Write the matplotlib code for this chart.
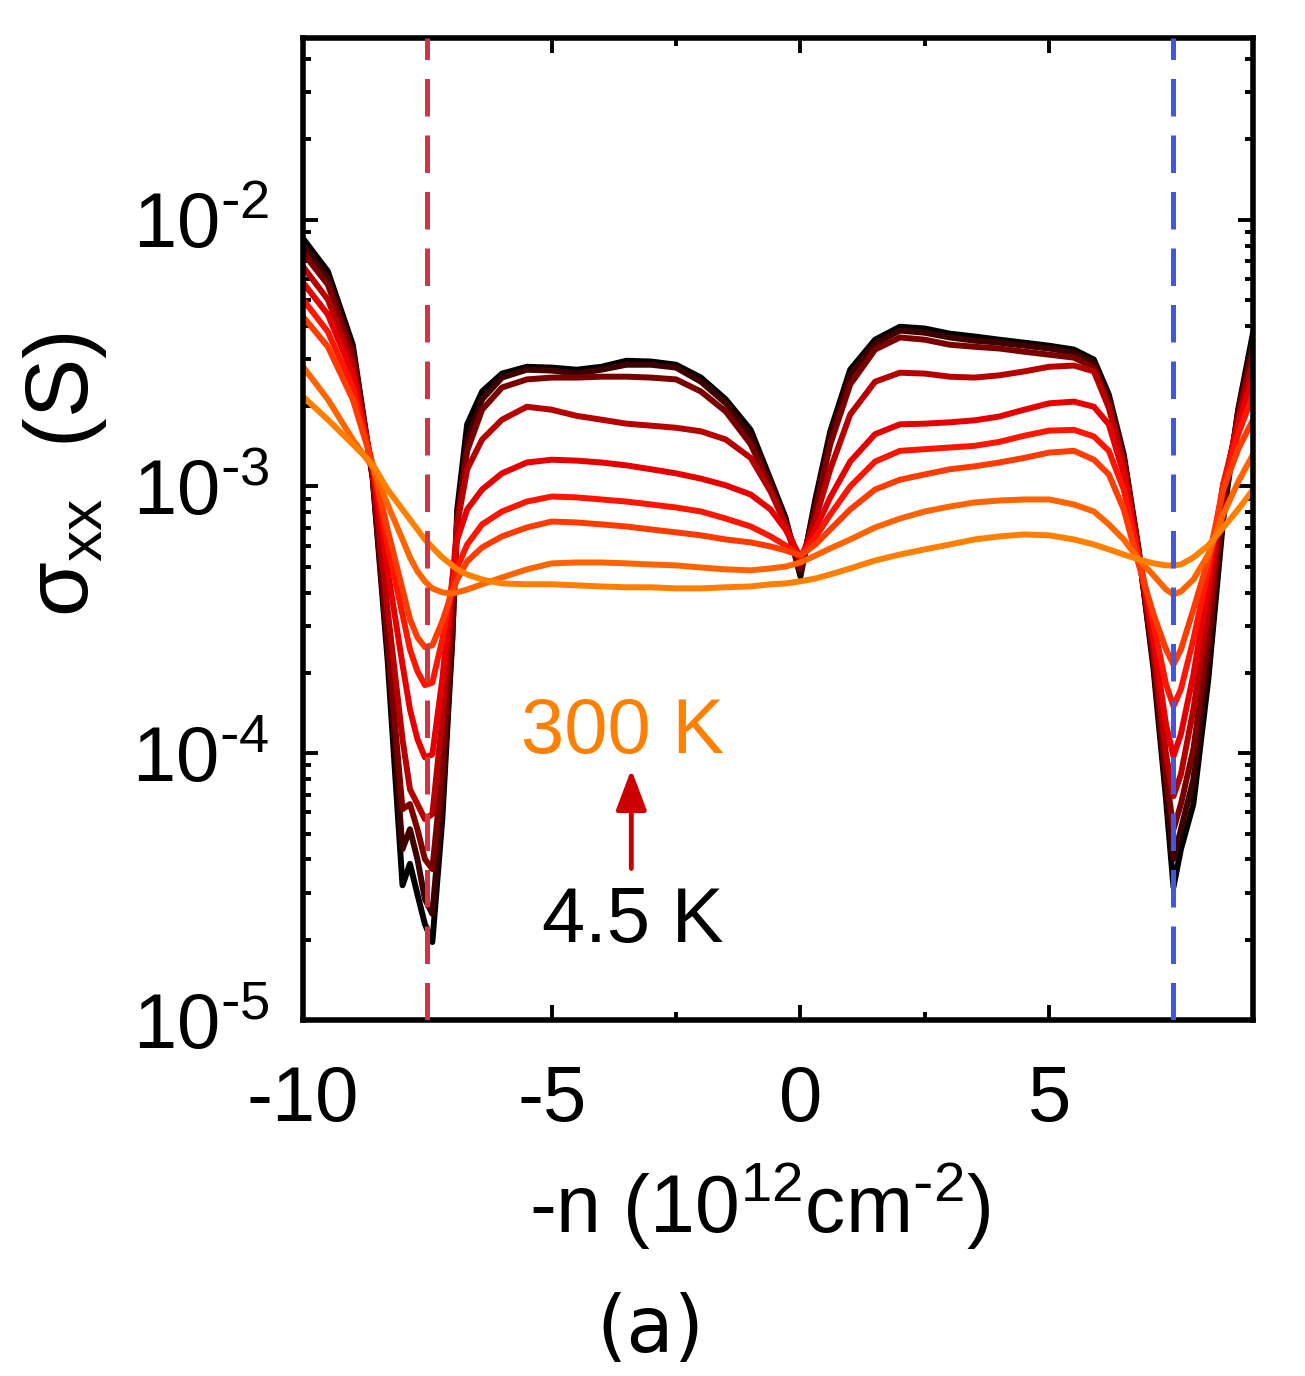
import matplotlib
matplotlib.use('Agg')
import matplotlib.pyplot as plt
from matplotlib.ticker import FixedLocator, LogLocator, NullFormatter, MultipleLocator, FixedFormatter

plt.rcParams['font.family'] = ['Liberation Sans', 'DejaVu Sans']
plt.rcParams['mathtext.default'] = 'regular'

# carrier density -n (1e12 cm^-2)
n = [-10.0, -9.5, -9.0, -8.6, -8.3, -8.0, -7.85, -7.7, -7.55, -7.4,
     -7.2, -7.0, -6.9, -6.7, -6.4, -6.0, -5.5, -5.0, -4.5, -4.0,
     -3.5, -3.0, -2.5, -2.0, -1.5, -1.0, -0.6, -0.3, 0.0, 0.3,
     0.6, 1.0, 1.5, 2.0, 2.5, 3.0, 3.5, 4.0, 4.5, 5.0,
     5.5, 5.9, 6.2, 6.5, 6.8, 7.1, 7.35, 7.5, 7.65, 7.9,
     8.2, 8.5, 8.8, 9.1]

# sigma_xx (S), from 4.5 K (sig_1) up to 300 K (sig_9)
sig_1 = [8.5e-3, 6.4e-3, 3.4e-3, 1.08e-3, 2.25e-4, 3.2e-5, 3.85e-5, 2.96e-5, 2.29e-5, 1.96e-5,
         5.66e-5, 2.67e-4, 8.2e-4, 1.71e-3, 2.27e-3, 2.65e-3, 2.81e-3, 2.79e-3, 2.74e-3, 2.81e-3,
         2.96e-3, 2.94e-3, 2.86e-3, 2.56e-3, 2.12e-3, 1.63e-3, 1.06e-3, 7.65e-4, 4.6e-4, 8.94e-4,
         1.61e-3, 2.74e-3, 3.55e-3, 3.97e-3, 3.91e-3, 3.74e-3, 3.65e-3, 3.55e-3, 3.46e-3, 3.37e-3,
         3.26e-3, 2.99e-3, 2.21e-3, 1.32e-3, 5.81e-4, 2.06e-4, 6.72e-5, 3.15e-5, 4.37e-5, 6.45e-5,
         1.89e-4, 7.52e-4, 1.94e-3, 3.77e-3]
sig_2 = [8.06e-3, 6.06e-3, 3.26e-3, 1.08e-3, 2.45e-4, 4.37e-5, 5.19e-5, 4.01e-5, 2.84e-5, 2.5e-5,
         6.72e-5, 2.67e-4, 7.52e-4, 1.5e-3, 2.12e-3, 2.56e-3, 2.74e-3, 2.72e-3, 2.65e-3, 2.74e-3,
         2.86e-3, 2.86e-3, 2.79e-3, 2.47e-3, 2.05e-3, 1.55e-3, 1.03e-3, 7.39e-4, 4.72e-4, 8.56e-4,
         1.54e-3, 2.63e-3, 3.43e-3, 3.84e-3, 3.77e-3, 3.62e-3, 3.52e-3, 3.46e-3, 3.37e-3, 3.29e-3,
         3.17e-3, 2.91e-3, 2.12e-3, 1.28e-3, 5.71e-4, 2.15e-4, 7.33e-5, 4.01e-5, 5.19e-5, 7.99e-5,
         2.25e-4, 8.2e-4, 1.91e-3, 3.55e-3]
sig_3 = [7.52e-3, 5.71e-3, 3.12e-3, 1.1e-3, 2.67e-4, 6.17e-5, 6.45e-5, 5.19e-5, 4.01e-5, 3.68e-5,
         8.71e-5, 3.18e-4, 7.52e-4, 1.36e-3, 1.94e-3, 2.35e-3, 2.52e-3, 2.56e-3, 2.56e-3, 2.58e-3,
         2.58e-3, 2.56e-3, 2.52e-3, 2.27e-3, 1.91e-3, 1.44e-3, 9.9e-4, 7.21e-4, 4.89e-4, 8.06e-4,
         1.44e-3, 2.41e-3, 3.26e-3, 3.62e-3, 3.55e-3, 3.4e-3, 3.34e-3, 3.29e-3, 3.2e-3, 3.12e-3,
         3.04e-3, 2.79e-3, 2.07e-3, 1.26e-3, 5.66e-4, 2.25e-4, 8.34e-5, 5.19e-5, 6.45e-5, 1.035e-4,
         2.67e-4, 8.94e-4, 1.86e-3, 3.26e-3]
sig_4 = [6.67e-3, 5.02e-3, 2.86e-3, 1.14e-3, 3.46e-4, 1.13e-4, 7.33e-5, 6.45e-5, 5.66e-5, 5.91e-5,
         1.34e-4, 4.3e-4, 7.21e-4, 1.16e-3, 1.5e-3, 1.78e-3, 1.99e-3, 1.94e-3, 1.84e-3, 1.78e-3,
         1.72e-3, 1.69e-3, 1.66e-3, 1.61e-3, 1.5e-3, 1.28e-3, 9.57e-4, 7.21e-4, 5.24e-4, 7.52e-4,
         1.16e-3, 1.86e-3, 2.47e-3, 2.67e-3, 2.65e-3, 2.58e-3, 2.56e-3, 2.61e-3, 2.7e-3, 2.81e-3,
         2.84e-3, 2.7e-3, 1.97e-3, 1.21e-3, 5.56e-4, 2.45e-4, 9.9e-5, 6.9e-5, 8.34e-5, 1.46e-4,
         3.46e-4, 9.74e-4, 1.78e-3, 2.94e-3]
sig_5 = [5.81e-3, 4.41e-3, 2.63e-3, 1.18e-3, 4.89e-4, 2.15e-4, 1.46e-4, 1.13e-4, 9.65e-5, 9.9e-5,
         1.89e-4, 4.48e-4, 6.33e-4, 8.2e-4, 9.74e-4, 1.12e-3, 1.23e-3, 1.26e-3, 1.25e-3, 1.23e-3,
         1.2e-3, 1.16e-3, 1.12e-3, 1.07e-3, 1.01e-3, 9.33e-4, 8.2e-4, 6.9e-4, 5.42e-4, 6.9e-4,
         9.1e-4, 1.24e-3, 1.57e-3, 1.71e-3, 1.72e-3, 1.74e-3, 1.77e-3, 1.83e-3, 1.94e-3, 2.05e-3,
         2.08e-3, 1.99e-3, 1.71e-3, 1.11e-3, 5.51e-4, 2.67e-4, 1.28e-4, 9.75e-5, 1.18e-4, 1.97e-4,
         4.3e-4, 1.02e-3, 1.71e-3, 2.56e-3]
sig_6 = [5.02e-3, 3.8e-3, 2.35e-3, 1.2e-3, 6.06e-4, 3.31e-4, 2.45e-4, 2.03e-4, 1.8e-4, 1.84e-4,
         2.67e-4, 4.3e-4, 4.97e-4, 6.06e-4, 7.21e-4, 8.06e-4, 8.78e-4, 9.17e-4, 9.1e-4, 8.94e-4,
         8.78e-4, 8.56e-4, 8.34e-4, 8.06e-4, 7.58e-4, 7.08e-4, 6.5e-4, 6.01e-4, 5.51e-4, 6.44e-4,
         7.85e-4, 1.0e-3, 1.24e-3, 1.36e-3, 1.38e-3, 1.4e-3, 1.42e-3, 1.47e-3, 1.55e-3, 1.62e-3,
         1.63e-3, 1.54e-3, 1.36e-3, 9.74e-4, 5.46e-4, 3.04e-4, 1.81e-4, 1.5e-4, 1.74e-4, 2.67e-4,
         4.89e-4, 1.02e-3, 1.57e-3, 2.21e-3]
sig_7 = [4.33e-3, 3.34e-3, 2.12e-3, 1.21e-3, 6.9e-4, 4.11e-4, 3.18e-4, 2.72e-4, 2.5e-4, 2.54e-4,
         3.12e-4, 4.04e-4, 4.48e-4, 5.24e-4, 5.91e-4, 6.5e-4, 7.02e-4, 7.39e-4, 7.33e-4, 7.21e-4,
         7.08e-4, 6.9e-4, 6.73e-4, 6.56e-4, 6.33e-4, 6.17e-4, 5.96e-4, 5.76e-4, 5.51e-4, 6.06e-4,
         6.9e-4, 8.2e-4, 9.74e-4, 1.06e-3, 1.11e-3, 1.16e-3, 1.19e-3, 1.23e-3, 1.28e-3, 1.34e-3,
         1.36e-3, 1.26e-3, 1.11e-3, 8.2e-4, 5.1e-4, 3.31e-4, 2.45e-4, 2.15e-4, 2.45e-4, 3.46e-4,
         5.33e-4, 9.74e-4, 1.38e-3, 1.78e-3]
sig_8 = [2.81e-3, 2.12e-3, 1.5e-3, 1.18e-3, 8.56e-4, 6.33e-4, 5.42e-4, 4.81e-4, 4.41e-4, 4.15e-4,
         4.01e-4, 3.97e-4, 4.01e-4, 4.11e-4, 4.3e-4, 4.56e-4, 4.89e-4, 5.15e-4, 5.19e-4, 5.19e-4,
         5.15e-4, 5.1e-4, 5.06e-4, 4.97e-4, 4.89e-4, 4.85e-4, 4.93e-4, 5.01e-4, 5.19e-4, 5.51e-4,
         5.86e-4, 6.33e-4, 7.02e-4, 7.58e-4, 8.06e-4, 8.41e-4, 8.71e-4, 8.86e-4, 8.94e-4, 8.94e-4,
         8.56e-4, 8.06e-4, 7.21e-4, 6.33e-4, 5.33e-4, 4.64e-4, 4.11e-4, 3.94e-4, 4.04e-4, 4.48e-4,
         5.56e-4, 7.85e-4, 1.04e-3, 1.32e-3]
sig_9 = [2.17e-3, 1.78e-3, 1.44e-3, 1.21e-3, 9.74e-4, 8.2e-4, 7.52e-4, 6.9e-4, 6.33e-4, 5.91e-4,
         5.42e-4, 5.06e-4, 4.89e-4, 4.68e-4, 4.48e-4, 4.33e-4, 4.3e-4, 4.3e-4, 4.26e-4, 4.22e-4,
         4.19e-4, 4.19e-4, 4.15e-4, 4.15e-4, 4.19e-4, 4.22e-4, 4.3e-4, 4.33e-4, 4.41e-4, 4.52e-4,
         4.68e-4, 4.93e-4, 5.28e-4, 5.56e-4, 5.81e-4, 6.06e-4, 6.33e-4, 6.5e-4, 6.61e-4, 6.56e-4,
         6.33e-4, 6.06e-4, 5.81e-4, 5.56e-4, 5.33e-4, 5.15e-4, 5.06e-4, 5.06e-4, 5.1e-4, 5.42e-4,
         6.01e-4, 7.02e-4, 8.2e-4, 9.74e-4]

curves = [sig_1, sig_2, sig_3, sig_4, sig_5, sig_6, sig_7, sig_8, sig_9]
colors = ['#000000', '#3d0000', '#7a0000', '#b80000', '#e60000',
          '#ff1500', '#ff3c00', '#ff6400', '#ff8000']

ytick_vals = [1e-5, 1e-4, 1e-3, 1e-2]
ytick_labels = ['10$^{\\text{-}5}$', '10$^{\\text{-}4}$', '10$^{\\text{-}3}$', '10$^{\\text{-}2}$']
xtick_vals = [-10, -5, 0, 5]
xtick_labels = ['-10', '-5', '0', '5']

fig = plt.figure(figsize=(13.05, 13.76), dpi=100)
ax = fig.add_axes([0.2322, 0.2587, 0.728, 0.7137])

for s, c in zip(curves, colors):
    ax.plot(n, s, color=c, lw=4.3, solid_joinstyle='round', solid_capstyle='round', zorder=2)

# dashed guide lines
ax.axvline(-7.5, color='#d03545', lw=3.6, dashes=(7.5, 3.8), zorder=3)
ax.axvline(7.5, color='#4058e0', lw=3.6, dashes=(7.5, 3.8), zorder=3)

ax.set_yscale('log')
ax.set_xlim(-10, 9.1)
ax.set_ylim(1e-5, 4.8e-2)

ax.xaxis.set_major_locator(FixedLocator(xtick_vals))
ax.xaxis.set_major_formatter(FixedFormatter(xtick_labels))
ax.xaxis.set_minor_locator(MultipleLocator(2.5))
ax.yaxis.set_major_locator(FixedLocator(ytick_vals))
ax.yaxis.set_major_formatter(FixedFormatter(ytick_labels))
ax.yaxis.set_minor_locator(LogLocator(base=10, subs=range(2, 10)))
ax.yaxis.set_minor_formatter(NullFormatter())

ax.tick_params(which='both', direction='in', top=True, right=True, width=2.8, color='black')
ax.tick_params(which='major', length=11)
ax.tick_params(which='minor', length=6)
ax.tick_params(axis='x', which='major', labelsize=56, pad=32)
ax.tick_params(axis='y', which='major', labelsize=56, pad=24)
for sp in ax.spines.values():
    sp.set_linewidth(4)

# temperature annotation
ax.text(-3.57, 1.2e-4, '300 K', color='#ff8000', fontsize=56, ha='center', va='center')
ax.text(-3.37, 2.35e-5, '4.5 K', color='black', fontsize=56, ha='center', va='center')
ax.annotate('', xy=(-3.4, 8.7e-5), xytext=(-3.4, 3.7e-5),
            arrowprops=dict(arrowstyle='-|>,head_length=0.45,head_width=0.17',
                            color='#cc0000', lw=3.5, mutation_scale=55, shrinkA=0, shrinkB=0))

fig.text(0.05, 0.655, '$\\sigma_{xx}$  (S)', rotation=90, fontsize=64, ha='center', va='center')
fig.text(0.582, 0.124, '-n (10$^{12}$cm$^{\\text{-}2}$)', fontsize=58, ha='center', va='center')
fig.text(0.498, 0.0334, '(a)', fontsize=56, ha='center', va='center', family='DejaVu Sans')

fig.savefig('out.png', dpi=100)
